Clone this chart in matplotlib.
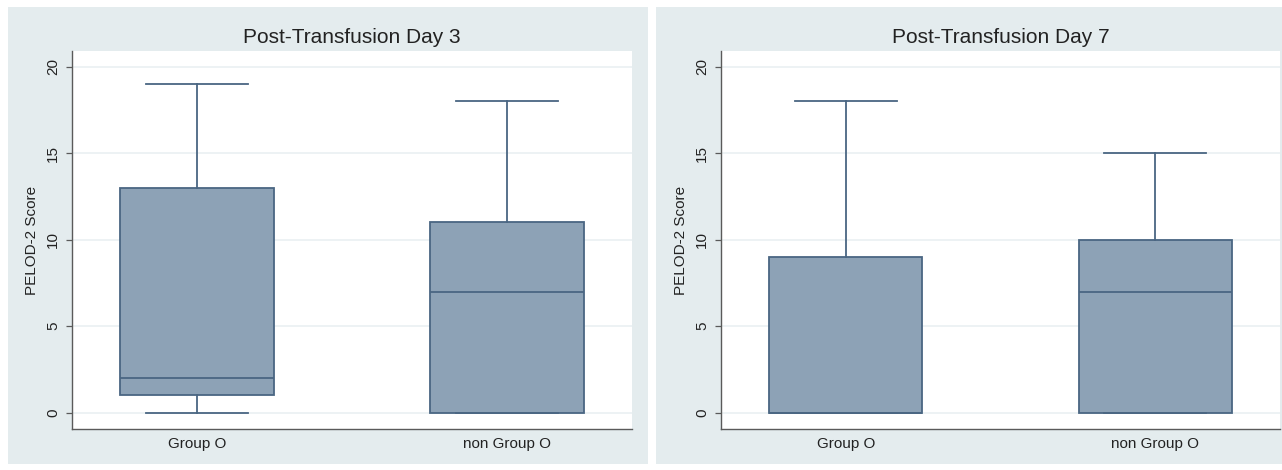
import matplotlib
matplotlib.use("Agg")
import matplotlib.pyplot as plt
from matplotlib.patches import Rectangle

# Five-number summaries (min, Q1, median, Q3, max) of PELOD-2 scores
groups = ["Group O", "non Group O"]
titles = ["Post-Transfusion Day 3", "Post-Transfusion Day 7"]

day3_min = [0, 0]
day3_q1 = [1, 0]
day3_med = [2, 7]
day3_q3 = [13, 11]
day3_max = [19, 18]

day7_min = [0, 0]
day7_q1 = [0, 0]
day7_med = [0, 7]
day7_q3 = [9, 10]
day7_max = [18, 15]

yticks = [0, 5, 10, 15, 20]
ylabel = "PELOD-2 Score"

plt.rcParams["font.family"] = ["Liberation Sans", "DejaVu Sans"]

W, H = 1282, 470
fig = plt.figure(figsize=(W / 100, H / 100), dpi=100)
fig.patch.set_facecolor("white")

region_col = "#e4ecee"
grid_col = "#eaf0f2"
face_col = "#8da2b6"
edge_col = "#4a6682"
axis_col = "#5a5a5a"
text_col = "#222222"


def px_rect(x0, y0, x1, y1):
    return (x0 / W, 1 - y1 / H, (x1 - x0) / W, (y1 - y0) / H)


# graph regions, drawn behind every axes
for x0, x1 in [(8, 648), (656, 1282)]:
    l, b, w, h = px_rect(x0, 7, x1, 464)
    fig.patches.append(Rectangle((l, b), w, h, transform=fig.transFigure,
                                 facecolor=region_col, edgecolor="none", zorder=-10))

axes_px = [(72, 51, 632, 429), (721, 51, 1280, 429)]
datasets = [
    (day3_min, day3_q1, day3_med, day3_q3, day3_max),
    (day7_min, day7_q1, day7_med, day7_q3, day7_max),
]

for (x0, y0, x1, y1), title, data in zip(axes_px, titles, datasets):
    ax = fig.add_axes(px_rect(x0, y0, x1, y1))
    ax.set_facecolor("white")
    mins, q1s, meds, q3s, maxs = data
    stats = []
    for i, g in enumerate(groups):
        stats.append(dict(label=g, whislo=mins[i], q1=q1s[i], med=meds[i],
                          q3=q3s[i], whishi=maxs[i], fliers=[]))
    ax.bxp(stats, positions=[1, 2], widths=0.495, patch_artist=True,
           showfliers=False, capwidths=0.33,
           boxprops=dict(facecolor=face_col, edgecolor=edge_col, linewidth=1.3),
           medianprops=dict(color=edge_col, linewidth=1.3),
           whiskerprops=dict(color=edge_col, linewidth=1.3),
           capprops=dict(color=edge_col, linewidth=1.3), zorder=3)
    ax.set_xlim(0.597, 2.403)
    ax.set_ylim(-0.94, 20.9)
    ax.set_yticks(yticks)
    ax.set_yticklabels([str(t) for t in yticks], rotation=90, va="center",
                       fontsize=11, color=text_col)
    ax.tick_params(axis="y", length=4.5, width=0.9, color=axis_col, pad=4)
    ax.tick_params(axis="x", length=0, pad=6, labelsize=11, labelcolor=text_col)
    ax.grid(axis="y", color=grid_col, linewidth=1.2, zorder=0)
    ax.set_axisbelow(True)
    for s in ["top", "right"]:
        ax.spines[s].set_visible(False)
    for s in ["left", "bottom"]:
        ax.spines[s].set_color(axis_col)
        ax.spines[s].set_linewidth(1.0)
    ax.set_ylabel(ylabel, fontsize=11, color=text_col, labelpad=5)
    ax.set_title(title, fontsize=15, color=text_col, pad=6)

fig.savefig("out.png", dpi=100, facecolor="white")
